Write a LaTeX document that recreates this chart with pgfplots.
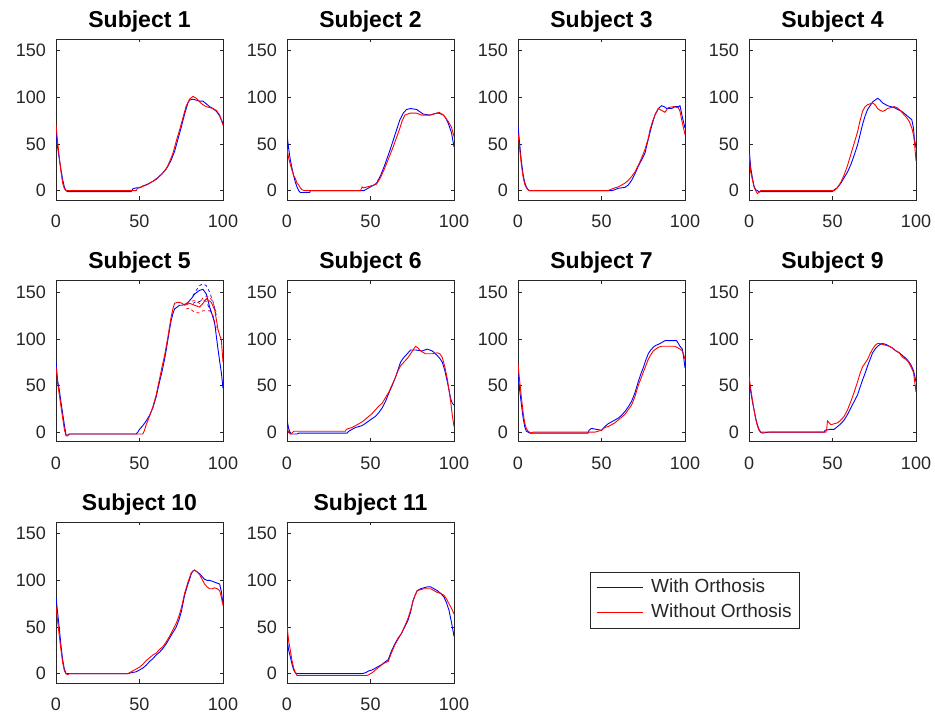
\documentclass[border=0pt]{standalone}
\usepackage{fontspec}
\setmainfont{Liberation Sans}
\usepackage{pgfplots}
\pgfplotsset{compat=1.18}
\definecolor{mgray}{rgb}{0.15,0.15,0.15}
\definecolor{mblue}{rgb}{0,0,1}
\definecolor{mred}{rgb}{1,0,0}
\pgfplotsset{
  panel/.style={
    scale only axis, width=167pt, height=161pt,
    xmin=0, xmax=100, ymin=-10, ymax=162.5,
    xtick={0,50,100}, ytick={0,50,100,150},
    tick align=inside, tick pos=both, major tick length=3.5pt,
    axis line style={draw=mgray, line width=0.6pt},
    every tick/.style={mgray, line width=0.5pt},
    /pgf/number format/assume math mode=true,
    ticklabel style={font=\fontsize{18}{20}\selectfont, text=mgray},
    xticklabel style={anchor=north, inner sep=0pt, yshift=-15pt},
    yticklabel style={anchor=east, inner sep=0pt, xshift=-10pt},
    title style={font=\bfseries\fontsize{23}{25}\selectfont, anchor=base, at={(0.5,1)}, yshift=5.5pt, inner sep=0pt},
  },
  blu/.style={mblue, line width=0.9pt},
  rd/.style={mred, line width=0.9pt},
}
\begin{document}
\begin{tikzpicture}
\path[use as bounding box] (0pt,0pt) rectangle (935pt,719pt);
% ---------- Subject 1
\begin{axis}[panel, at={(56pt,519pt)}, anchor=south west, title={Subject 1}]
\addplot[blu] coordinates {(0,62)(1,46)(2,34)(3,22)(4,12)(5,4)(6,0)(7,-1)(45,-1)(46,2)(48,3)(50,3)(52,5)(55,7)(58,10)(61,14)(64,19)(67,26)(69,33)(71,42)(73,55)(75,68)(77,82)(79,94)(80,97)(82,98)(84,97)(86,96)(88,96)(90,93)(92,90)(94,88)(96,85)(98,80)(100,72)};
\addplot[rd] coordinates {(0,71)(1,52)(2,35)(3,20)(4,8)(5,2)(6,0)(45,0)(48,0)(49,3)(51,4)(54,6)(57,9)(60,12)(63,17)(66,23)(68,31)(70,40)(72,53)(74,65)(76,78)(78,91)(80,98)(82,101)(84,99)(86,95)(88,92)(90,90)(92,89)(94,88)(96,86)(98,81)(100,70)};
\end{axis}
% ---------- Subject 2
\begin{axis}[panel, at={(287pt,519pt)}, anchor=south west, title={Subject 2}]
\addplot[blu] coordinates {(0,60)(1,45)(2,33)(3,24)(4,16)(5,9)(6,4)(7,0)(8,-2)(13.6,-2)(14,0)(46,0)(48,2)(50,4)(52,6)(53.6,8)(56,16)(58,25)(59.6,33)(61.6,43)(63.6,54)(65.6,65)(67.6,76)(69.6,83)(71.6,87)(74,88)(77.6,87)(80,84)(81.6,82)(85.6,81)(89.6,83)(91,83)(93.6,81)(95,78)(96.6,72)(98.5,62)(100,47)};
\addplot[rd] coordinates {(0,45)(1,35)(2,28)(3,22)(4,16)(5,13)(6,8)(7,6)(8,3)(9,1)(10.6,0)(44,0)(45,4)(46,3)(48,4)(50,5)(52,6)(53.6,7)(56,14)(58,22)(59.6,29)(61.6,38)(63.6,47)(65.6,57)(67.6,67)(69,75)(70.6,81)(73.6,83)(77.6,83)(80.6,81)(85.6,81)(89.6,83)(91,84)(93.6,81)(95,78)(96.6,74)(98.5,68)(100,58)};
\end{axis}
% ---------- Subject 3
\begin{axis}[panel, at={(518pt,519pt)}, anchor=south west, title={Subject 3}]
\addplot[blu] coordinates {(0,70)(1,50)(2,32)(3,18)(4,9)(5,4)(6,1)(7,0)(56,0)(58,1)(60,2.5)(64,3.5)(66,6)(68,11)(70,18)(72,26)(74,33)(76,40)(78,55)(80,69)(82,81)(84,88)(86,91)(87.5,90)(89,88)(92,88)(94,90)(96,90)(97,91)(98.4,79)(100,67)};
\addplot[rd] coordinates {(0,61)(1,45)(2,28)(3,15)(4,7)(5,3)(6,1)(7,0)(54,0)(55,1)(58,3)(60,4)(62,6)(64,8)(66,11)(68,15)(70,20)(72,27)(74,35)(76,44)(78,56)(79,65)(80.5,74)(82,81)(84,88)(86,86)(88,84)(90,89)(93,90)(96,89)(97,85)(98,76)(100,60)};
\end{axis}
% ---------- Subject 4
\begin{axis}[panel, at={(749pt,519pt)}, anchor=south west, title={Subject 4}]
\addplot[blu] coordinates {(0,47)(1,25)(2,14)(3,5)(4,1)(5,0)(6,-1)(50,-1)(51,1)(52.8,3)(55,8)(57,14)(59,20)(61,28)(63,38)(65,49)(66.5,60)(68,71)(69.5,80)(71,87)(72.5,91)(74,95)(75.5,97)(77,99)(78.5,97)(80,94)(83,91)(85,90)(87,89)(89,87)(91.5,85)(93.5,82)(95.5,79)(97.5,76)(98.5,67)(99,56)(100,46)};
\addplot[rd] coordinates {(0,40)(1,20)(2,12)(3,4)(4,0)(5,-3)(6,-2)(7,0)(51,0)(52.8,3)(55,9)(57,17)(59,27)(61,39)(63,51)(65,63)(66.5,75)(68,85)(69.5,90)(71,92)(72.5,93)(74,94)(75.5,92)(77,88)(78.5,86)(80,85)(81.5,86)(83,88)(85,89)(87,90)(88.5,89)(90,87)(92,83)(94.5,78)(96,74)(97.5,67)(98.5,60)(99,53)(100,32)};
\end{axis}
% ---------- Subject 5
\begin{axis}[panel, at={(56pt,277.5pt)}, anchor=south west, title={Subject 5}]
\addplot[blu] coordinates {(0,75)(1,55)(2,45)(3,32)(4,20)(5,8)(6,-3)(7,-3)(8,-2)(48,-2)(49,0)(50,3)(52,7)(54,12)(56,18)(58,26)(60,38)(62,54)(63.5,65)(65,78)(66,88)(67,99)(68,110)(69,120)(70,127)(71,132)(72.5,134)(74,136)(75.5,136)(77,137)(78.5,138)(80,141)(81.5,144)(83,148)(84.5,150)(86,152)(88,153)(90,148)(91,141)(92,134)(93.5,126)(95,117)(96,103)(97,89)(98,76)(99,64)(100,47)};
\addplot[blu, line width=0.7pt, dashed] coordinates {(82,146)(84,152)(86,157)(88,159)(90,157)(92,150)(94,140)(96,125)};
\addplot[blu, line width=0.7pt, dashed] coordinates {(82,138)(84,140)(86,140)(88,142)(90,140)(92,132)(94,124)(96,108)};
\addplot[rd] coordinates {(0,70)(1,52)(2,40)(3,27)(4,15)(5,3)(6,-4)(7,-4)(8,-2)(52,-2)(53,2)(54,8)(56,17)(58,27)(60,40)(62,57)(63.5,70)(65,82)(66,92)(67,102)(68,113)(69,124)(70,132)(71,138)(72.5,139)(74,139)(75.5,138)(77,136)(78.5,137)(80,138)(81.5,137)(83,136)(84.5,135)(86,134)(88,138)(90,143)(91.5,141)(93,139)(94,135)(95,131)(96,121)(97,110)(98,104)(99,99)(100,75)};
\addplot[rd, line width=0.7pt, dashed] coordinates {(78,138)(80,140)(83,141)(86,138)(88,144)(90,146)(92,145)(94,139)(96,128)};
\addplot[rd, line width=0.7pt, dashed] coordinates {(78,132)(80,133)(83,128)(86,128)(88,130)(90,130)(92,130)(94,125)(96,112)};
\end{axis}
% ---------- Subject 6
\begin{axis}[panel, at={(287pt,277.5pt)}, anchor=south west, title={Subject 6}]
\addplot[blu] coordinates {(0,13)(1,4)(2,-1)(3,-2)(6,-2)(7,-1)(36,-1)(37,1)(41,5)(45,7)(49,12)(53,17)(55,21)(57,26)(59,33)(61,42)(63,50)(65,59)(66.5,67)(68,75)(69.5,79)(71,82)(72.5,85)(74,88)(77,88)(81,87)(84,89)(87,87)(90,82)(91.5,79)(93,75)(94.5,66)(96,54)(97,45)(98,36)(99,31)(100,29)};
\addplot[rd] coordinates {(0,5)(1,0)(2,-2)(3,-1)(4,1)(35,1)(35.5,3)(37,4)(39,5)(42,8)(45,11)(49,17)(51,20)(53,24)(55,28)(57,31)(59,37)(61,43)(63,51)(65,59)(66.5,66)(68,71)(69.5,74)(71,77)(72.5,80)(74,84)(75.5,88)(77,92)(78.5,90)(80,87)(83,84)(87,84)(90,85)(91.5,84)(93,80)(94.5,70)(96,57)(97,45)(98,33)(99,18)(100,6)};
\end{axis}
% ---------- Subject 7
\begin{axis}[panel, at={(518pt,277.5pt)}, anchor=south west, title={Subject 7}]
\addplot[blu] coordinates {(0,63)(1,45)(2,30)(3,16)(4,6)(5,1)(6,0)(7,-1)(42,-1)(42.5,2)(44,4)(47,3)(50,2)(52,6)(54,9)(56,11)(58,13)(60,15)(62,18)(64,22)(66,27)(68,33)(70,42)(72,54)(73.5,62)(75,69)(76.5,77)(78,84)(79.5,88)(81,91)(82.5,93)(84,94)(86,96)(88,98)(90,98)(92,98)(94,98)(95,98)(96,95)(97,92)(98.4,89)(99.2,80)(100,69)};
\addplot[rd] coordinates {(0,73)(1,55)(2,38)(3,22)(4,10)(5,4)(6,1)(7,0)(8,-1)(9,0)(46,0)(48,1)(50,2)(52,5)(54,6)(56,8)(58,10)(60,13)(62,16)(64,19)(66,24)(68,29)(70,38)(72,50)(73.5,57)(75,64)(76.5,71)(78,78)(79.5,83)(81,87)(82.5,89)(84,91)(86,92)(88,92)(90,92)(92,92)(94,92)(95,91)(96,90)(97,89)(98.4,87)(99.2,83)(100,78)};
\end{axis}
% ---------- Subject 9
\begin{axis}[panel, at={(749pt,277.5pt)}, anchor=south west, title={Subject 9}]
\addplot[blu] coordinates {(0,55)(1,44)(2,33)(3,24)(4,15)(5,8)(6,3)(7,0)(8,-1)(12,0)(45,0)(45.5,2)(49,3)(51,3)(53,6)(55,9)(57,13)(59,19)(61,26)(63,33)(65,40)(66.5,48)(68,56)(69.5,63)(71,71)(72.5,78)(74,85)(75.5,89)(77,92)(78.5,94)(80,95)(82,94)(84,92)(86,90)(88,87)(90,85)(92,82)(94,79)(95.5,76)(97,72)(98.5,66)(100,54)};
\addplot[rd] coordinates {(0,60)(1,47)(2,35)(3,24)(4,14)(5,7)(6,2)(7,0)(46,0)(46.5,3)(47,12)(48,10)(49,8)(51,9)(53,10)(55,13)(57,17)(59,24)(61,33)(63,43)(65,54)(66.5,63)(68,70)(69.5,74)(71,78)(72.5,84)(74,89)(75.5,93)(77,95)(78.5,95)(80,94)(82,93)(84,92)(86,90)(88,87)(90,85)(92,80)(94,78)(95.5,75)(97,70)(98.5,64)(100,43)};
\end{axis}
% ---------- Subject 10
\begin{axis}[panel, at={(56pt,36pt)}, anchor=south west, title={Subject 10}]
\addplot[blu] coordinates {(0,82)(1,65)(2,48)(3,30)(4,15)(5,5)(6,0)(43,0)(45,1)(48,2)(50,4)(52,6)(54,9)(56,13)(58,16)(60,20)(62,23)(64,27)(66,32)(68,38)(70,44)(72,50)(73.5,57)(75,66)(76,75)(77,84)(78,90)(79,96)(80,101)(81,107)(82,110)(83,111)(84.5,109)(86,107)(87.5,104)(89,101)(90.5,100)(92,100)(93.5,99)(95,98)(96.5,97)(98,96)(99,88)(100,75)};
\addplot[rd] coordinates {(0,72)(1,56)(2,40)(3,25)(4,12)(5,3)(6,0)(7,-1)(8,0)(43,0)(45,2)(48,5)(50,7)(52,10)(54,14)(56,17)(58,20)(60,22)(62,26)(64,29)(66,34)(68,40)(70,47)(72,54)(73.5,61)(75,70)(76,78)(77,86)(78,92)(79,98)(80,103)(81,108)(82,110)(83,111)(84.5,109)(86,106)(87.5,101)(89,96)(90.5,93)(92,91)(93.5,91)(95,92)(96.5,91)(98,89)(99,82)(100,73)};
\end{axis}
% ---------- Subject 11
\begin{axis}[panel, at={(287pt,36pt)}, anchor=south west, title={Subject 11},
  legend style={at={(1.814,0.689)}, anchor=north west, draw=mgray, fill=white,
    font=\fontsize{19}{21}\selectfont,
    inner xsep=6pt, inner ysep=4.5pt, row sep=3pt,
    nodes={inner sep=2pt, text height=14pt, text depth=4pt},
    /tikz/every odd column/.append style={column sep=6pt}},
  legend cell align=left,
  legend image code/.code={\draw[#1, line width=1.1pt] (0pt,0pt) -- (46pt,0pt);}]
\addplot[blu] coordinates {(0,38)(1,25)(2,18)(3,10)(4,4)(5,1)(6,0)(45,0)(47,1)(49,3)(51,4)(53,6)(55,8)(57,10)(59,13)(60.6,15)(62.5,24)(64.6,32)(66.5,38)(68.5,43)(70.5,50)(72.4,57)(74,66)(75.4,78)(76.7,84)(78,89)(80,91)(82,92)(84,93)(86,93)(88,91)(90,89)(92,86)(94,82)(95.5,76)(97,68)(98.5,55)(100,40)};
\addlegendentry{\textcolor{mgray}{With Orthosis}}
\addplot[rd] coordinates {(0,52)(1,35)(2,25)(3,14)(4,6)(5,1)(6,-2)(48,-2)(49,-1)(51,1)(53,4)(55,7)(57,10)(59,12)(60.6,13)(62.5,22)(64.6,31)(66.5,37)(68.5,43)(70.5,51)(72.4,59)(74,68)(75.4,77)(76.7,84)(78,89)(80,90)(82,91)(84,91)(86,91)(88,89)(90,87)(92,86)(94,84)(95.5,80)(97,75)(98.5,70)(100,64)};
\addlegendentry{\textcolor{mgray}{Without Orthosis}}
\end{axis}
\end{tikzpicture}
\end{document}
